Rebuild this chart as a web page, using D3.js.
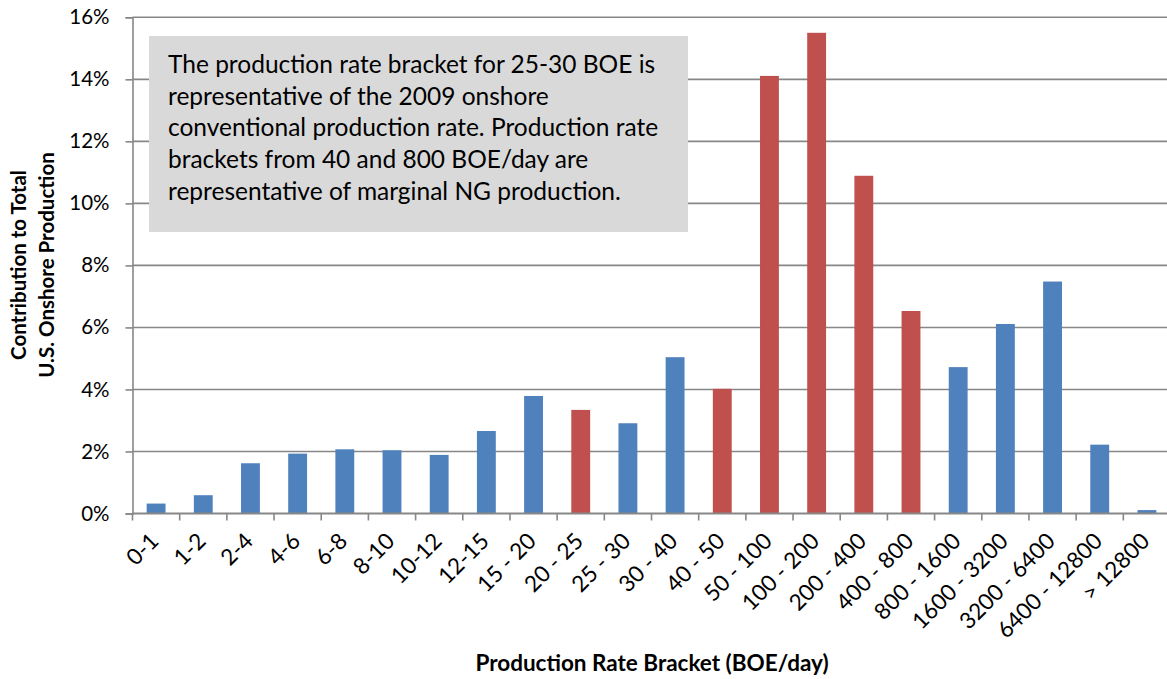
<!DOCTYPE html>
<html>
<head>
<meta charset="utf-8">
<script src="https://cdn.jsdelivr.net/npm/d3@7"></script>
<style>
  html, body { margin: 0; padding: 0; background: #fff; }
  svg { display: block; font-family: Lato, "Open Sans", sans-serif; }
</style>
</head>
<body>
<svg id="chart" width="1167" height="679"></svg>
<script>
// Production rate brackets (BOE/day)
const brackets = ["0-1", "1-2", "2-4", "4-6", "6-8", "8-10", "10-12", "12-15", "15 - 20", "20 - 25",
  "25 - 30", "30 - 40", "40 - 50", "50 - 100", "100 - 200", "200 - 400", "400 - 800",
  "800 - 1600", "1600 - 3200", "3200 - 6400", "6400 - 12800", "> 12800"];

// Share of total U.S. onshore production (%)
const shares = [0.32, 0.59, 1.62, 1.93, 2.07, 2.04, 1.89, 2.66, 3.79, 3.34,
  2.91, 5.04, 4.02, 14.11, 15.5, 10.89, 6.53, 4.72, 6.11, 7.48, 2.22, 0.11];

// Brackets drawn in the highlight colour
const highlighted = ["20 - 25", "40 - 50", "50 - 100", "100 - 200", "200 - 400", "400 - 800"];

const yTicks = [0, 2, 4, 6, 8, 10, 12, 14, 16];

const noteLines = [
  "The production rate bracket for 25-30 BOE is",
  "representative of the 2009 onshore",
  "conventional production rate. Production rate",
  "brackets from 40 and 800 BOE/day are",
  "representative of marginal NG production."
];

const data = brackets.map((b, i) => ({ bracket: b, value: shares[i] }));

const svg = d3.select("#chart");
const plot = { left: 132.5, right: 1170.5, top: 17.3, bottom: 513.5 };
const gridColor = "#878787";

const x = d3.scaleBand()
  .domain(brackets)
  .range([plot.left, plot.right])
  .paddingInner(0.6)
  .paddingOuter(0.3);

const xSlot = d3.scaleBand().domain(brackets).range([plot.left, plot.right]);

const y = d3.scaleLinear().domain([0, 16]).range([plot.bottom, plot.top]);

// Horizontal gridlines
svg.append("g")
  .selectAll("line")
  .data(yTicks.filter(t => t > 0))
  .join("line")
  .attr("x1", plot.left).attr("x2", 1167)
  .attr("y1", d => y(d)).attr("y2", d => y(d))
  .attr("stroke", gridColor).attr("stroke-width", 1.6);

// Y axis
const yAxis = svg.append("g")
  .attr("transform", `translate(${plot.left},0)`)
  .call(d3.axisLeft(y).tickValues(yTicks).tickFormat(d => d + "%").tickSize(7).tickPadding(16));
yAxis.select(".domain").attr("stroke", gridColor).attr("stroke-width", 1.6);
yAxis.selectAll(".tick line").attr("stroke", gridColor).attr("stroke-width", 1.6);
yAxis.selectAll(".tick text")
  .attr("font-size", 20.5).attr("fill", "#000")
  .attr("font-family", "Lato, sans-serif");

// Bars
svg.append("g")
  .selectAll("rect")
  .data(data)
  .join("rect")
  .attr("x", d => x(d.bracket))
  .attr("width", x.bandwidth())
  .attr("y", d => y(d.value))
  .attr("height", d => y(0) - y(d.value))
  .attr("fill", d => highlighted.includes(d.bracket) ? "#c0504d" : "#4f81bd");

// X axis with ticks at the bracket boundaries
const xg = svg.append("g");
xg.append("line")
  .attr("x1", plot.left).attr("x2", 1167)
  .attr("y1", plot.bottom).attr("y2", plot.bottom)
  .attr("stroke", gridColor).attr("stroke-width", 1.8);
xg.selectAll("line.tick")
  .data(brackets)
  .join("line")
  .attr("class", "tick")
  .attr("x1", d => xSlot(d)).attr("x2", d => xSlot(d))
  .attr("y1", plot.bottom).attr("y2", plot.bottom + 7)
  .attr("stroke", gridColor).attr("stroke-width", 1.6);

xg.selectAll("text")
  .data(brackets)
  .join("text")
  .attr("transform", d => `translate(${xSlot(d) + xSlot.bandwidth() / 2 + 4},${plot.bottom + 29}) rotate(-45)`)
  .attr("text-anchor", "end")
  .attr("font-size", 22.5)
  .attr("fill", "#000")
  .text(d => d);

// Axis titles
svg.append("text")
  .attr("x", 652).attr("y", 671)
  .attr("text-anchor", "middle")
  .attr("font-size", 22.5).attr("font-weight", "bold")
  .text("Production Rate Bracket (BOE/day)");

const yTitle = svg.append("text")
  .attr("transform", "translate(0,265) rotate(-90)")
  .attr("text-anchor", "middle")
  .attr("font-size", 20.5).attr("font-weight", "bold");
yTitle.append("tspan").attr("x", 0).attr("y", 26).text("Contribution to Total");
yTitle.append("tspan").attr("x", 0).attr("y", 54).text("U.S. Onshore Production");

// Annotation box
svg.append("rect")
  .attr("x", 149).attr("y", 36)
  .attr("width", 539).attr("height", 196)
  .attr("fill", "#d9d9d9");

svg.append("g")
  .selectAll("text")
  .data(noteLines)
  .join("text")
  .attr("x", 168)
  .attr("y", (d, i) => 73 + i * 31.7)
  .attr("font-size", 24.5)
  .attr("fill", "#000")
  .text(d => d);
</script>
</body>
</html>
